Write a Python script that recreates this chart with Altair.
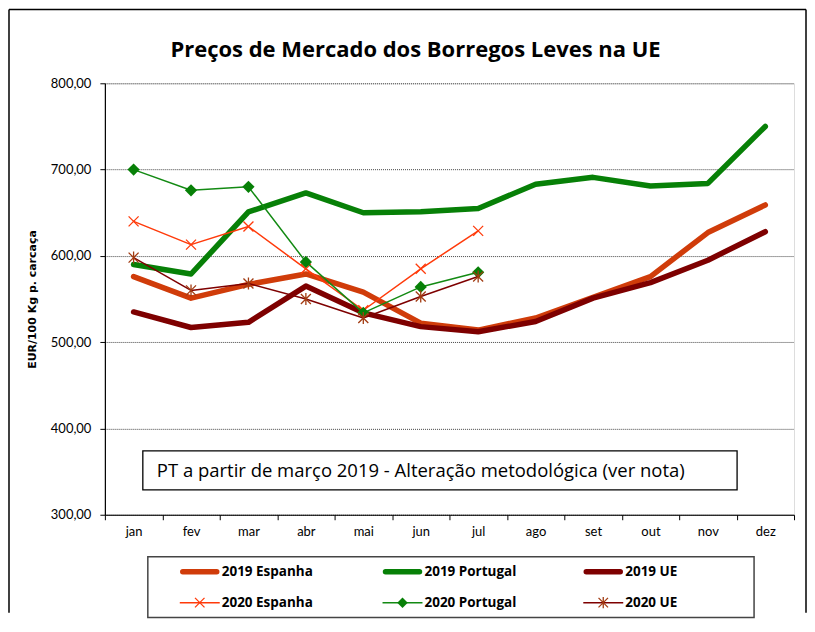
import altair as alt
import pandas as pd

months = ["jan", "fev", "mar", "abr", "mai", "jun", "jul", "ago", "set", "out", "nov", "dez"]

esp_2019 = [576, 551, 567, 579, 558, 522, 514, 528, 552, 576, 627, 659]
por_2019 = [590, 579, 651, 673, 650, 651, 655, 683, 691, 681, 684, 750]
ue_2019 = [535, 517, 523, 565, 534, 518, 512, 524, 551, 569, 595, 628]
esp_2020 = [640, 613, 634, 585, 537, 585, 629]
por_2020 = [700, 676, 680, 593, 534, 564, 581]
ue_2020 = [598, 560, 568, 550, 528, 553, 576]

series_names = ["2019 Espanha", "2019 Portugal", "2019 UE", "2020 Espanha", "2020 Portugal", "2020 UE"]
series_values = [esp_2019, por_2019, ue_2019, esp_2020, por_2020, ue_2020]
line_colors = ["#D03C0A", "#078007", "#7E0000", "#FF3A0A", "#138A13", "#7E0000"]
marker_colors = [None, None, None, "#FF3A0A", "#078007", "#A23B12"]
line_widths = [5.5, 5.5, 5.5, 1.5, 1.5, 1.5]

title_text = "Preços de Mercado dos Borregos Leves na UE"
y_title = "EUR/100 Kg p. carcaça"
note_text = "PT a partir de março 2019 - Alteração metodológica (ver nota)"

X_PATH = "M-1,-1L1,1M-1,1L1,-1"
STAR_PATH = "M-1,-1L1,1M-1,1L1,-1M0,-1.2L0,1.2"

W, H = 690, 432

rows = []
for name, vals in zip(series_names, series_values):
    for m, v in zip(months, vals):
        rows.append({"series": name, "month": m, "value": v})
df = pd.DataFrame(rows)

x_enc = alt.X("month:O", sort=months,
              scale=alt.Scale(type="band", domain=months, paddingInner=0, paddingOuter=0),
              axis=alt.Axis(title=None, tickBand="extent", labelAngle=0, tickSize=5,
                            labelPadding=6, labelFont="Lato", labelFontSize=13,
                            labelColor="#000", domainColor="#000", tickColor="#000",
                            domainWidth=1.2, grid=False))
y_enc = alt.Y("value:Q", scale=alt.Scale(domain=[300, 800], nice=False, zero=False),
              axis=alt.Axis(title=y_title, values=[300, 400, 500, 600, 700, 800],
                            labelExpr="replace(format(datum.value, '.2f'), '.', ',')",
                            labelFont="Lato", labelFontSize=13, labelColor="#000",
                            tickSize=5, labelPadding=9, domainColor="#000", tickColor="#000",
                            domainWidth=1.2, grid=True, gridColor="#444", gridDash=[1, 1],
                            gridWidth=1, titleFont="DejaVu Sans", titleFontSize=11,
                            titleFontWeight="bold", titleColor="#000", titlePadding=13))

one = alt.Data(values=[{}])

layers = []

# frame
layers.append(alt.Chart(one).mark_rule(color="#000", strokeWidth=1.5).encode(
    x=alt.value(-96), y=alt.value(-74), y2=alt.value(530)))
layers.append(alt.Chart(one).mark_rule(color="#000", strokeWidth=1.5).encode(
    x=alt.value(-96), x2=alt.value(702), y=alt.value(-74)))
layers.append(alt.Chart(one).mark_rule(color="#000", strokeWidth=1.5).encode(
    x=alt.value(702), y=alt.value(-74), y2=alt.value(530)))

# title
layers.append(alt.Chart(one).mark_text(align="center", baseline="middle", font="Open Sans",
                                       fontSize=22, fontWeight="bold", color="#000").encode(
    x=alt.value(311), y=alt.value(-33), text=alt.value(title_text)))

# note box
layers.append(alt.Chart(one).mark_rect(fill="white", stroke="#000", strokeWidth=1.3).encode(
    x=alt.value(38), x2=alt.value(633), y=alt.value(368), y2=alt.value(407)))
layers.append(alt.Chart(one).mark_text(align="left", baseline="middle", font="Open Sans",
                                       fontSize=18.5, color="#000").encode(
    x=alt.value(52), y=alt.value(388), text=alt.value(note_text)))

# data
for i, name in enumerate(series_names):
    base = alt.Chart(df).transform_filter(alt.datum.series == name)
    layers.append(base.mark_line(color=line_colors[i], strokeWidth=line_widths[i],
                                 strokeCap="round", strokeJoin="round").encode(x=x_enc, y=y_enc))
    if i == 3:
        layers.append(base.mark_point(shape=X_PATH, filled=False, color=marker_colors[i],
                                      strokeWidth=1.3, size=100, opacity=1).encode(x=x_enc, y=y_enc))
    elif i == 4:
        layers.append(base.mark_point(shape="diamond", filled=True, color=marker_colors[i],
                                      size=150, opacity=1).encode(x=x_enc, y=y_enc))
    elif i == 5:
        layers.append(base.mark_point(shape=STAR_PATH, filled=False, color=marker_colors[i],
                                      strokeWidth=1.3, size=100, opacity=1).encode(x=x_enc, y=y_enc))

# legend
layers.append(alt.Chart(one).mark_rect(fill="white", stroke="#444", strokeWidth=1.5).encode(
    x=alt.value(43), x2=alt.value(650), y=alt.value(474), y2=alt.value(535)))
col_x = [75, 278, 479]
row_y = [489, 520]
for i, name in enumerate(series_names):
    cx = col_x[i % 3]
    ry = row_y[i // 3]
    layers.append(alt.Chart(one).mark_rule(color=line_colors[i], strokeWidth=line_widths[i],
                                           strokeCap="round" if i < 3 else "butt").encode(
        x=alt.value(cx + (3 if i < 3 else 0)), x2=alt.value(cx + (37 if i < 3 else 40)),
        y=alt.value(ry)))
    if i == 3:
        layers.append(alt.Chart(one).mark_point(shape=X_PATH, filled=False, color=marker_colors[i],
                                                strokeWidth=1.3, size=90, opacity=1).encode(
            x=alt.value(cx + 20), y=alt.value(ry)))
    elif i == 4:
        layers.append(alt.Chart(one).mark_point(shape="diamond", filled=True, color=marker_colors[i],
                                                size=110, opacity=1).encode(
            x=alt.value(cx + 20), y=alt.value(ry)))
    elif i == 5:
        layers.append(alt.Chart(one).mark_point(shape=STAR_PATH, filled=False, color=marker_colors[i],
                                                strokeWidth=1.3, size=90, opacity=1).encode(
            x=alt.value(cx + 20), y=alt.value(ry)))
    layers.append(alt.Chart(one).mark_text(align="left", baseline="middle", font="Open Sans",
                                           fontSize=13.5, fontWeight="bold", color="#000").encode(
        x=alt.value(cx + 42), y=alt.value(ry), text=alt.value(name)))

chart = alt.layer(*layers).properties(
    width=W, height=H, padding=0,
).configure_view(stroke="#8c8c8c", strokeWidth=1.5).configure(background="white")

chart.save("out.html", embed_options={"renderer": "svg", "actions": False})
